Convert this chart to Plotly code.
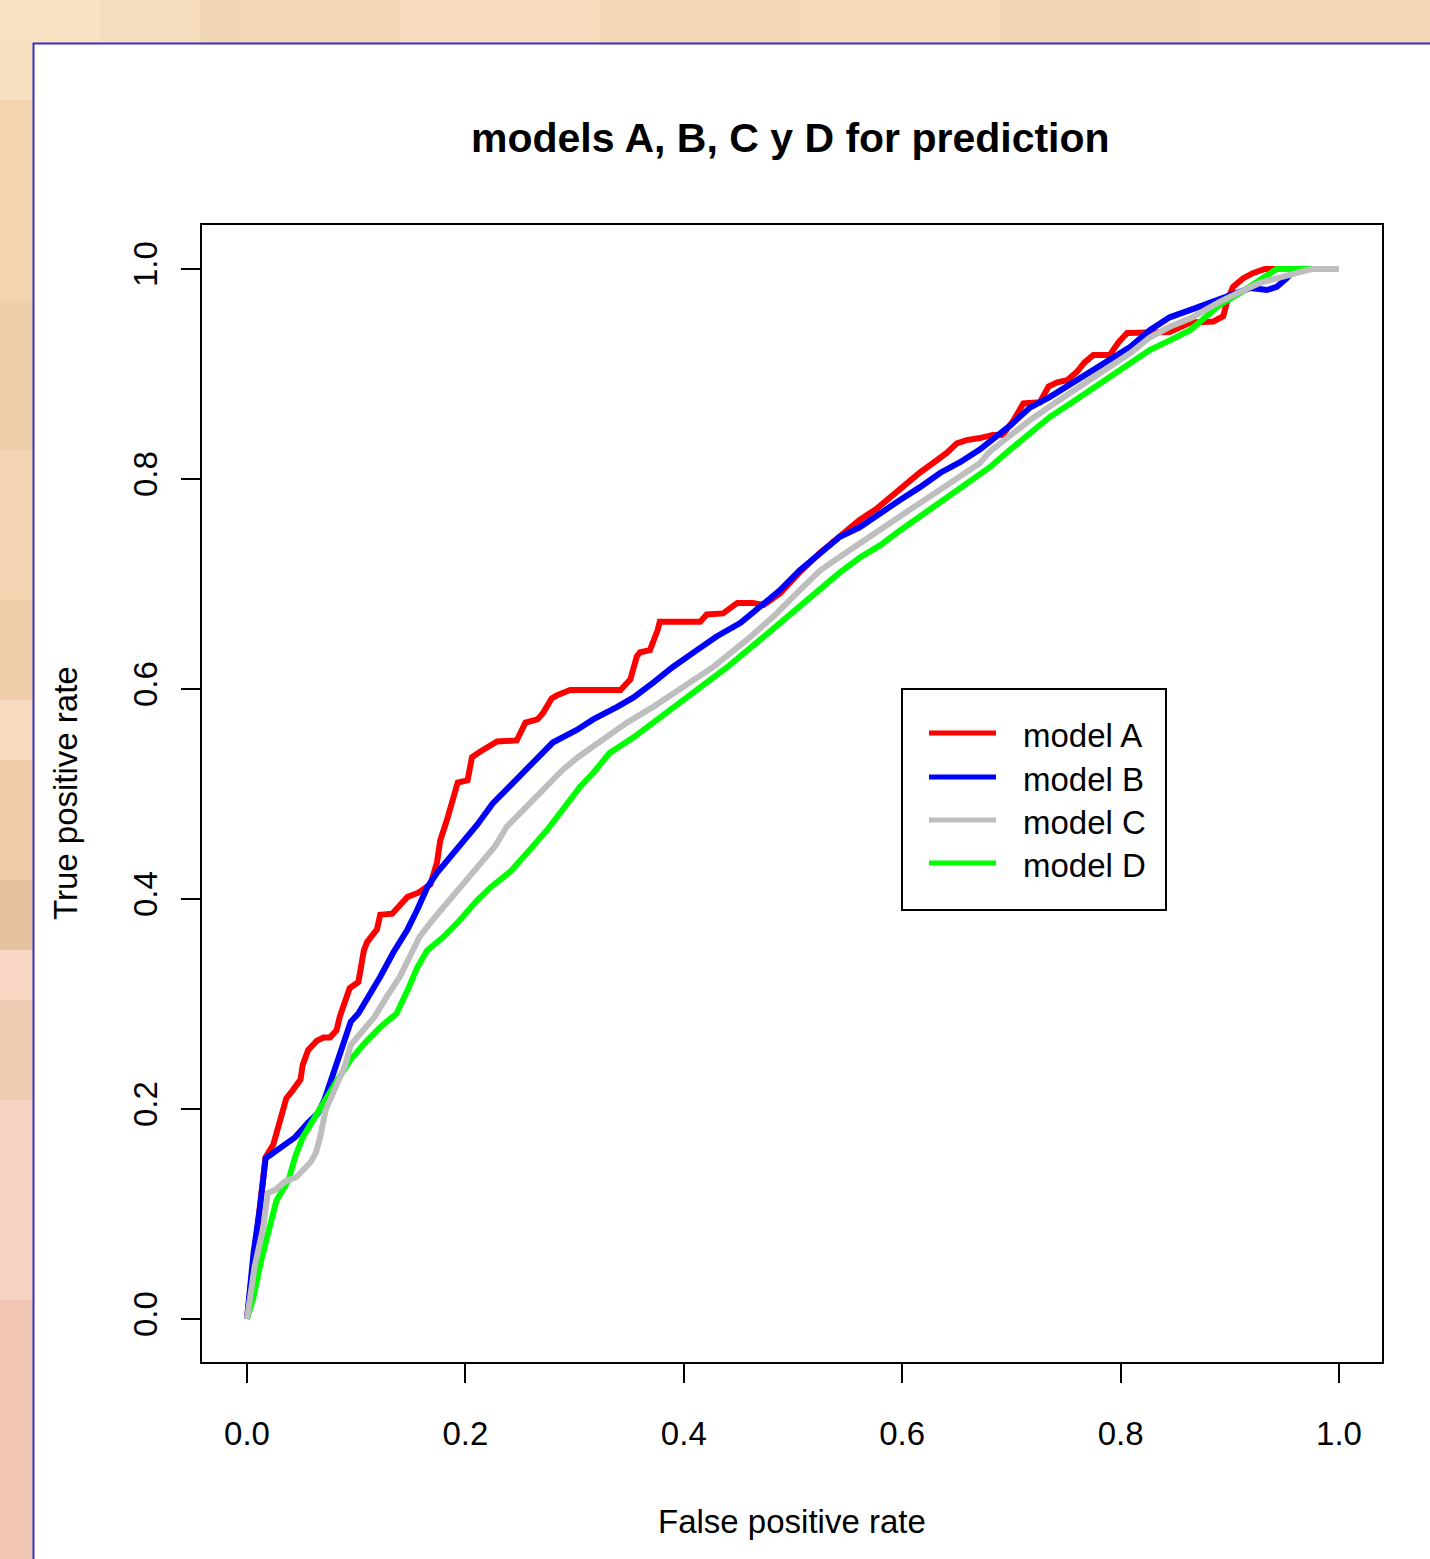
import plotly.graph_objects as go

# ---------------- data ----------------
fpr_a = [0, 0.017, 0.024, 0.032, 0.036, 0.042, 0.049, 0.051, 0.056, 0.064,
         0.070, 0.076, 0.082, 0.085, 0.090, 0.094, 0.102, 0.105, 0.107, 0.110,
         0.119, 0.122, 0.133, 0.140, 0.147, 0.157, 0.168, 0.174, 0.177, 0.183,
         0.189, 0.193, 0.202, 0.206, 0.213, 0.229, 0.247, 0.255, 0.266, 0.271,
         0.279, 0.284, 0.296, 0.342, 0.351, 0.357, 0.360, 0.369, 0.376, 0.378,
         0.415, 0.421, 0.436, 0.445, 0.449, 0.463, 0.473, 0.488, 0.506, 0.525,
         0.543, 0.561, 0.577, 0.589, 0.604, 0.616, 0.628, 0.641, 0.650, 0.659,
         0.671, 0.683, 0.692, 0.702, 0.711, 0.726, 0.734, 0.742, 0.751, 0.760,
         0.767, 0.775, 0.790, 0.798, 0.806, 0.824, 0.845, 0.864, 0.885, 0.894,
         0.898, 0.903, 0.912, 0.921, 0.932, 1.0]
tpr_a = [0, 0.154, 0.166, 0.196, 0.210, 0.218, 0.228, 0.242, 0.256, 0.265,
         0.268, 0.268, 0.275, 0.288, 0.305, 0.315, 0.321, 0.339, 0.351, 0.359,
         0.371, 0.385, 0.386, 0.394, 0.402, 0.406, 0.414, 0.435, 0.456, 0.475,
         0.497, 0.511, 0.513, 0.535, 0.540, 0.550, 0.551, 0.568, 0.571, 0.577,
         0.591, 0.594, 0.599, 0.599, 0.609, 0.631, 0.635, 0.637, 0.656, 0.664,
         0.664, 0.671, 0.672, 0.678, 0.682, 0.682, 0.680, 0.691, 0.711, 0.730,
         0.745, 0.761, 0.772, 0.783, 0.796, 0.806, 0.815, 0.825, 0.834, 0.837,
         0.839, 0.842, 0.842, 0.856, 0.872, 0.873, 0.888, 0.892, 0.894, 0.902,
         0.911, 0.918, 0.918, 0.930, 0.939, 0.940, 0.940, 0.949, 0.950, 0.955,
         0.971, 0.983, 0.991, 0.996, 1.0, 1.0]

fpr_b = [0, 0.006, 0.012, 0.015, 0.017, 0.021, 0.031, 0.044, 0.056, 0.065,
         0.071, 0.077, 0.083, 0.090, 0.095, 0.102, 0.110, 0.122, 0.134, 0.147,
         0.156, 0.165, 0.174, 0.186, 0.198, 0.211, 0.225, 0.244, 0.262, 0.280,
         0.302, 0.317, 0.339, 0.354, 0.372, 0.390, 0.412, 0.430, 0.452, 0.470,
         0.488, 0.506, 0.525, 0.543, 0.561, 0.580, 0.598, 0.616, 0.635, 0.653,
         0.671, 0.699, 0.717, 0.735, 0.754, 0.772, 0.790, 0.809, 0.827, 0.845,
         0.864, 0.891, 0.907, 0.919, 0.934, 0.943, 0.952, 0.960, 1.0]
tpr_b = [0, 0.063, 0.107, 0.135, 0.153, 0.156, 0.164, 0.173, 0.187, 0.196,
         0.209, 0.228, 0.244, 0.266, 0.283, 0.291, 0.304, 0.326, 0.349, 0.371,
         0.390, 0.411, 0.425, 0.440, 0.456, 0.471, 0.491, 0.511, 0.530, 0.549,
         0.561, 0.571, 0.583, 0.592, 0.606, 0.621, 0.637, 0.650, 0.663, 0.678,
         0.694, 0.713, 0.730, 0.745, 0.754, 0.768, 0.780, 0.792, 0.806, 0.816,
         0.828, 0.851, 0.868, 0.878, 0.890, 0.901, 0.913, 0.926, 0.942, 0.954,
         0.961, 0.971, 0.978, 0.982, 0.980, 0.983, 0.991, 1.0, 1.0]

fpr_c = [0, 0.007, 0.015, 0.019, 0.026, 0.035, 0.045, 0.058, 0.063, 0.067,
         0.072, 0.081, 0.090, 0.095, 0.106, 0.117, 0.128, 0.140, 0.149, 0.158,
         0.170, 0.183, 0.195, 0.209, 0.227, 0.238, 0.253, 0.273, 0.289, 0.303,
         0.323, 0.348, 0.372, 0.399, 0.427, 0.458, 0.482, 0.506, 0.525, 0.543,
         0.561, 0.580, 0.598, 0.616, 0.635, 0.653, 0.671, 0.680, 0.699, 0.717,
         0.735, 0.754, 0.772, 0.790, 0.809, 0.827, 0.845, 0.864, 0.891, 0.909,
         0.928, 0.943, 0.958, 0.971, 0.976, 1.0]
tpr_c = [0, 0.050, 0.088, 0.120, 0.123, 0.131, 0.135, 0.149, 0.158, 0.173,
         0.199, 0.221, 0.242, 0.261, 0.275, 0.288, 0.307, 0.326, 0.345, 0.364,
         0.380, 0.396, 0.411, 0.428, 0.450, 0.469, 0.485, 0.507, 0.523, 0.535,
         0.549, 0.568, 0.583, 0.602, 0.621, 0.647, 0.669, 0.694, 0.713, 0.726,
         0.739, 0.751, 0.764, 0.777, 0.790, 0.802, 0.815, 0.826, 0.842, 0.856,
         0.869, 0.882, 0.894, 0.907, 0.920, 0.935, 0.945, 0.953, 0.969, 0.978,
         0.987, 0.991, 0.996, 0.999, 1.0, 1.0]

fpr_d = [0, 0.006, 0.013, 0.021, 0.027, 0.038, 0.044, 0.051, 0.062, 0.072,
         0.083, 0.095, 0.108, 0.122, 0.137, 0.147, 0.156, 0.165, 0.180, 0.195,
         0.211, 0.223, 0.241, 0.259, 0.275, 0.289, 0.305, 0.317, 0.332, 0.354,
         0.378, 0.408, 0.440, 0.470, 0.488, 0.506, 0.525, 0.543, 0.561, 0.580,
         0.598, 0.616, 0.635, 0.653, 0.671, 0.680, 0.699, 0.717, 0.735, 0.754,
         0.772, 0.790, 0.809, 0.827, 0.845, 0.864, 0.873, 0.891, 0.909, 0.921,
         0.934, 0.943, 1.0]
tpr_d = [0, 0.021, 0.056, 0.088, 0.113, 0.132, 0.154, 0.173, 0.192, 0.211,
         0.228, 0.247, 0.263, 0.278, 0.291, 0.313, 0.335, 0.351, 0.364, 0.380,
         0.399, 0.411, 0.426, 0.447, 0.466, 0.485, 0.507, 0.520, 0.539, 0.554,
         0.573, 0.596, 0.621, 0.647, 0.663, 0.678, 0.694, 0.711, 0.725, 0.737,
         0.751, 0.764, 0.777, 0.790, 0.804, 0.811, 0.828, 0.844, 0.859, 0.872,
         0.885, 0.897, 0.911, 0.923, 0.932, 0.942, 0.950, 0.966, 0.977, 0.985,
         0.994, 1.0, 1.0]

model_names = ["model A", "model B", "model C", "model D"]
model_colors = ["#FF0000", "#0000FF", "#BEBEBE", "#00FF00"]
tick_vals = [0.0, 0.2, 0.4, 0.6, 0.8, 1.0]
tick_text = ["0.0", "0.2", "0.4", "0.6", "0.8", "1.0"]
title_text = "models A, B, C y D for prediction"
x_title = "False positive rate"
y_title = "True positive rate"

# ---------------- geometry ----------------
W, H = 1430, 1559
ML, MR, MT, MB = 202, 48, 225, 197
PW = W - ML - MR
PH = H - MT - MB
X0_PX, X_UNIT = 247, 1092      # pixel of x=0, pixels per unit
Y0_PX, Y_UNIT = 1319, 1050     # pixel of y=0, pixels per unit

x_lo = (ML - X0_PX) / X_UNIT
x_hi = x_lo + PW / X_UNIT
y_lo = -((H - MB) - Y0_PX) / Y_UNIT
y_hi = y_lo + PH / Y_UNIT


def pxp(xp):
    return (xp - ML) / PW


def pyp(yp):
    return (H - MB - yp) / PH


def dx(xp):
    return (xp - X0_PX) / X_UNIT


def dy(yp):
    return (Y0_PX - yp) / Y_UNIT


FONT = "Liberation Sans, Arial, Helvetica, sans-serif"
series = [(fpr_a, tpr_a), (fpr_b, tpr_b), (fpr_c, tpr_c), (fpr_d, tpr_d)]
draw_order = [0, 1, 3, 2]

fig = go.Figure()
for i in draw_order:
    fig.add_trace(go.Scatter(
        x=series[i][0], y=series[i][1], mode="lines", name=model_names[i],
        line=dict(color=model_colors[i], width=6),
        showlegend=False, hoverinfo="skip"))

shapes = []
# textured peach background strips (left and top of the white panel)
left_strip = [(0, 100, "#F8DFC0"), (100, 300, "#F2D4B1"), (300, 450, "#EECFAC"),
              (450, 600, "#F3D5B3"), (600, 700, "#F0CEAC"), (700, 760, "#F7DBC1"),
              (760, 880, "#F0CBA9"), (880, 950, "#E6C1A0"), (950, 1000, "#F8D8C4"),
              (1000, 1100, "#EFCBB3"), (1100, 1300, "#F5D2C1"), (1300, 1600, "#F1C6B4")]
for y0, y1, c in left_strip:
    shapes.append(dict(type="rect", xref="paper", yref="paper", layer="below",
                       x0=pxp(-5), x1=pxp(34), y0=pyp(y1), y1=pyp(y0),
                       fillcolor=c, line=dict(width=0)))
top_strip = [(0, 100, "#FAE1C2"), (100, 200, "#F5DCBD"), (200, 240, "#EFD5B4"),
             (240, 400, "#F3D9B8"), (400, 600, "#F6DCBC"), (600, 800, "#F2D8B7"),
             (800, 1000, "#F5DBBA"), (1000, 1200, "#F1D6B5"), (1200, 1440, "#F4D9B8")]
for x0, x1, c in top_strip:
    shapes.append(dict(type="rect", xref="paper", yref="paper", layer="below",
                       x0=pxp(x0), x1=pxp(x1), y0=pyp(44), y1=pyp(-5),
                       fillcolor=c, line=dict(width=0)))
# white panel with blue edge
shapes.append(dict(type="rect", xref="paper", yref="paper", layer="below",
                   x0=pxp(33.5), x1=pxp(1445), y0=pyp(1575), y1=pyp(43.5),
                   fillcolor="white", line=dict(color="#3232CC", width=2)))

# legend (R style) drawn inside the plot
leg_box = dict(x0=dx(902), x1=dx(1166), y0=dy(910), y1=dy(689))
shapes.append(dict(type="rect", xref="x", yref="y", layer="above",
                   fillcolor="white", line=dict(color="black", width=2), **leg_box))
leg_rows = [733, 777, 820, 863]
annotations = []
for name, col, row in zip(model_names, model_colors, leg_rows):
    shapes.append(dict(type="line", xref="x", yref="y", layer="above",
                       x0=dx(929), x1=dx(996), y0=dy(row), y1=dy(row),
                       line=dict(color=col, width=5)))
    annotations.append(dict(xref="x", yref="y", x=dx(1021), y=dy(row + 2),
                            text=name, showarrow=False, xanchor="left",
                            yanchor="middle",
                            font=dict(family=FONT, size=33, color="black")))

annotations.append(dict(xref="paper", yref="paper", x=pxp(790), y=pyp(138),
                        text="<b>" + title_text + "</b>", showarrow=False,
                        xanchor="center", yanchor="middle",
                        font=dict(family=FONT, size=41, color="black")))
annotations.append(dict(xref="paper", yref="paper", x=pxp(792), y=pyp(1521),
                        text=x_title, showarrow=False,
                        xanchor="center", yanchor="middle",
                        font=dict(family=FONT, size=33, color="black")))
annotations.append(dict(xref="paper", yref="paper", x=pxp(65), y=pyp(793),
                        text=y_title, showarrow=False, textangle=-90,
                        xanchor="center", yanchor="middle",
                        font=dict(family=FONT, size=33, color="black")))

axis_common = dict(
    tickmode="array", tickvals=tick_vals, ticktext=tick_text,
    ticks="outside", ticklen=19, tickwidth=2, tickcolor="black",
    showline=True, linecolor="black", linewidth=2, mirror=True,
    showgrid=False, zeroline=False,
    tickfont=dict(family=FONT, size=33, color="black"),
)

fig.update_layout(
    width=W, height=H,
    margin=dict(l=ML, r=MR, t=MT, b=MB, pad=0),
    paper_bgcolor="#F3D6B6", plot_bgcolor="white",
    xaxis=dict(range=[x_lo, x_hi], ticklabelstandoff=22, **axis_common),
    yaxis=dict(range=[y_lo, y_hi], tickangle=-90, ticklabelstandoff=11, **axis_common),
    shapes=shapes, annotations=annotations, showlegend=False,
)

fig.write_html("out.html",
               config={"displayModeBar": False, "staticPlot": True},
               post_script="document.body.style.margin='0';"
                           "document.body.style.background='#F3D6B6';")
